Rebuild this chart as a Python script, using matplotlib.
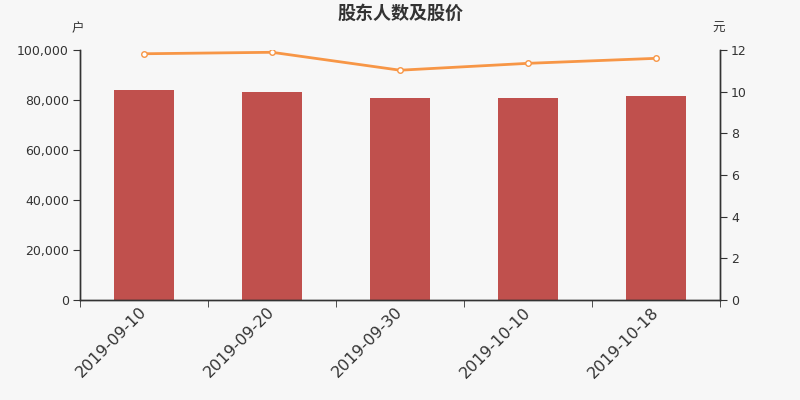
import matplotlib
matplotlib.use("Agg")
import matplotlib.pyplot as plt
import numpy as np

plt.rcParams['font.family'] = ['Noto Sans CJK SC', 'DejaVu Sans']

dates = ["2019-09-10", "2019-09-20", "2019-09-30", "2019-10-10", "2019-10-18"]
holders = [84000, 83200, 81000, 80800, 81600]
prices = [11.82, 11.89, 11.03, 11.36, 11.60]
left_ticks = [0, 20000, 40000, 60000, 80000, 100000]
right_ticks = [0, 2, 4, 6, 8, 10, 12]

bg = "#f7f7f7"
txt = "#333333"
fig = plt.figure(figsize=(8, 4), dpi=100, facecolor=bg)
ax = fig.add_axes([0.1, 0.25, 0.8, 0.625], facecolor=bg)
ax2 = ax.twinx()

x = np.arange(len(dates))
ax.bar(x, holders, width=0.47, color="#c0504d", zorder=2)
ax.set_xlim(-0.5, len(dates) - 0.5)
ax.set_ylim(0, 100000)
ax.set_yticks(left_ticks)
ax.set_yticklabels([f"{v:,}" for v in left_ticks], fontsize=9, color=txt, family='DejaVu Sans')
ax.set_xticks(x)
ax.set_xticklabels(dates, rotation=45, ha='right', va='center', rotation_mode='anchor',
                   fontsize=11.5, color=txt, family='DejaVu Sans')
ax.tick_params(axis='x', length=0, pad=7)
ax.set_xticks(np.arange(len(dates) + 1) - 0.5, minor=True)
ax.tick_params(axis='x', which='minor', length=5, color=txt)
ax.tick_params(axis='y', length=5, color=txt, pad=3)

ax2.plot(x, prices, color="#f79646", lw=2, marker='o', ms=4, mfc='white', mec="#f79646", mew=1, zorder=3)
ax2.set_ylim(0, 12)
ax2.set_yticks(right_ticks)
ax2.set_yticklabels([str(v) for v in right_ticks], fontsize=9, color=txt, family='DejaVu Sans')
ax2.tick_params(axis='y', length=5, color=txt, pad=3)

for a in (ax, ax2):
    a.spines['top'].set_visible(False)
    for s in ('left', 'right', 'bottom'):
        a.spines[s].set_color(txt)
        a.spines[s].set_linewidth(1)

fig.text(0.5, 0.967, "股东人数及股价", ha='center', va='center', fontsize=13, fontweight='semibold', color=txt)
fig.text(0.097, 0.928, "户", ha='center', va='center', fontsize=9, color=txt)
fig.text(0.898, 0.928, "元", ha='center', va='center', fontsize=9, color=txt)

fig.savefig("out.png", dpi=100, facecolor=bg)
